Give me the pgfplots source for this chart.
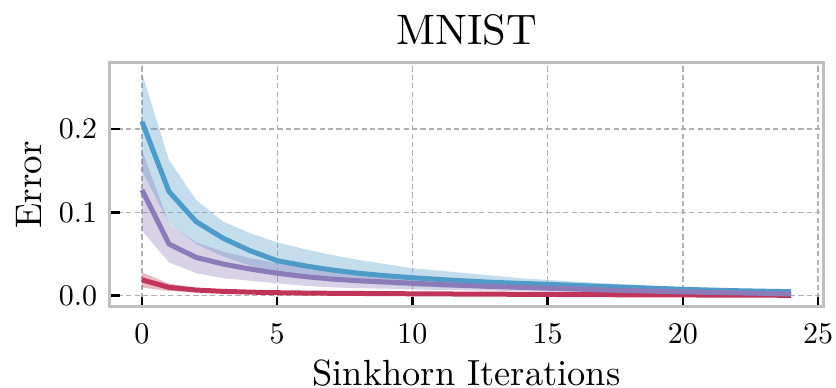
\documentclass[border=0pt]{standalone}
\usepackage{pgfplots}
\pgfplotsset{compat=1.18}
\usepackage{pgfplotstable}
\usepgfplotslibrary{fillbetween}

\definecolor{cblue}{HTML}{4E9BC9}
\definecolor{cpurple}{HTML}{8C7BB9}
\definecolor{cred}{HTML}{C0345A}
\definecolor{framegray}{HTML}{BFBFBF}
\definecolor{gridgray}{HTML}{B0B0B0}

\pgfplotstableread{
x  bm     bu     bl     pm     pu     pl     rm     ru     rl
0  0.209  0.267  0.150  0.127  0.175  0.078  0.019  0.028  0.010
1  0.125  0.163  0.087  0.062  0.086  0.040  0.010  0.0145 0.0055
2  0.089  0.115  0.062  0.046  0.064  0.027  0.0068 0.0095 0.0041
3  0.069  0.089  0.047  0.038  0.053  0.021  0.0052 0.0072 0.0032
4  0.054  0.075  0.036  0.032  0.045  0.018  0.0043 0.0060 0.0026
5  0.042  0.064  0.027  0.027  0.039  0.015  0.0036 0.0050 0.0022
6  0.036  0.056  0.022  0.023  0.034  0.012  0.0032 0.0044 0.0020
7  0.031  0.049  0.018  0.020  0.030  0.010  0.0029 0.0040 0.0018
8  0.027  0.043  0.015  0.018  0.027  0.009  0.0027 0.0037 0.0017
9  0.024  0.038  0.013  0.0165 0.024  0.0085 0.0025 0.0034 0.0016
10 0.0216 0.033  0.011  0.015  0.022  0.0075 0.0023 0.0031 0.0015
11 0.0195 0.030  0.0100 0.0135 0.020  0.0070 0.0021 0.0028 0.0014
12 0.0177 0.027  0.0092 0.0122 0.018  0.0064 0.0020 0.0026 0.0014
13 0.0160 0.024  0.0085 0.0110 0.016  0.0060 0.0018 0.0024 0.0012
14 0.0148 0.021  0.0080 0.0100 0.0145 0.0055 0.0017 0.0022 0.0012
15 0.0137 0.019  0.0075 0.0090 0.013  0.0050 0.0015 0.0020 0.0010
16 0.0124 0.017  0.0070 0.0080 0.0115 0.0045 0.0013 0.0018 0.0008
17 0.0112 0.015  0.0064 0.0070 0.010  0.0040 0.0012 0.0016 0.0008
18 0.0100 0.0135 0.0058 0.0062 0.009  0.0035 0.0011 0.0015 0.0007
19 0.0088 0.0118 0.0052 0.0054 0.008  0.0028 0.0010 0.0013 0.0007
20 0.0077 0.0102 0.0047 0.0046 0.007  0.0022 0.0009 0.0012 0.0006
21 0.0068 0.0090 0.0042 0.0040 0.006  0.0018 0.0008 0.0011 0.0005
22 0.0060 0.0080 0.0037 0.0034 0.005  0.0015 0.0007 0.0010 0.0004
23 0.0054 0.0070 0.0035 0.0028 0.0042 0.0012 0.0006 0.0009 0.0003
24 0.0048 0.0062 0.0033 0.0022 0.0035 0.0009 0.0005 0.0008 0.0002
}\data

\begin{document}
\begin{tikzpicture}
\begin{axis}[
  name=ax,
  scale only axis,
  width=357pt, height=122pt,
  xmin=-1.2, xmax=25.2,
  ymin=-0.0132, ymax=0.2797,
  xtick={0,5,10,15,20,25},
  ytick={0,0.1,0.2},
  xtick pos=bottom, ytick pos=left,
  tick align=inside,
  major tick length=5pt,
  major tick style={black, line width=1.3pt},
  axis line style={framegray, line width=1.4pt},
  grid=major,
  major grid style={gridgray, line width=0.65pt, dash pattern=on 2.6pt off 1.6pt},
  yticklabel style={/pgf/number format/fixed, /pgf/number format/fixed zerofill, /pgf/number format/precision=1},
  ticklabel style={font=\fontsize{10}{12}\selectfont, scale=1.5},
  xticklabel style={yshift=-2.2pt},
  yticklabel style={xshift=-0.6pt},
  xlabel={Sinkhorn Iterations},
  xlabel style={at={([yshift=-39.3pt]rel axis cs:0.5,0)}, anchor=base, font=\fontsize{10}{12}\selectfont, scale=1.82},
  ylabel={Error},
  ylabel style={at={([xshift=-33.9pt]rel axis cs:0,0.5)}, anchor=base, font=\fontsize{10}{12}\selectfont, scale=1.85},
]
\addplot[draw=none, forget plot, name path=bu] table[x=x,y=bu]{\data};
\addplot[draw=none, forget plot, name path=bl] table[x=x,y=bl]{\data};
\addplot[draw=none, forget plot, name path=pu] table[x=x,y=pu]{\data};
\addplot[draw=none, forget plot, name path=pl] table[x=x,y=pl]{\data};
\addplot[draw=none, forget plot, name path=ru] table[x=x,y=ru]{\data};
\addplot[draw=none, forget plot, name path=rl] table[x=x,y=rl]{\data};

\addplot[fill=cblue, fill opacity=0.34, draw=none, forget plot] fill between[of=bu and bl];
\addplot[fill=cpurple, fill opacity=0.34, draw=none, forget plot] fill between[of=pu and pl];
\addplot[fill=cred, fill opacity=0.35, draw=none, forget plot] fill between[of=ru and rl];

\addplot[cred, line width=2.5pt, no markers] table[x=x,y=rm]{\data};
\addplot[cblue, line width=2.5pt, no markers] table[x=x,y=bm]{\data};
\addplot[cpurple, line width=2.5pt, no markers] table[x=x,y=pm]{\data};
\end{axis}
\node[anchor=base, font=\fontsize{10}{12}\selectfont, scale=2.13] at ([yshift=9.2pt]ax.north) {MNIST};
\pgfresetboundingbox
\path[use as bounding box] (-54.75pt,-40.15pt) rectangle (363.25pt,153.35pt);
\end{tikzpicture}
\end{document}
